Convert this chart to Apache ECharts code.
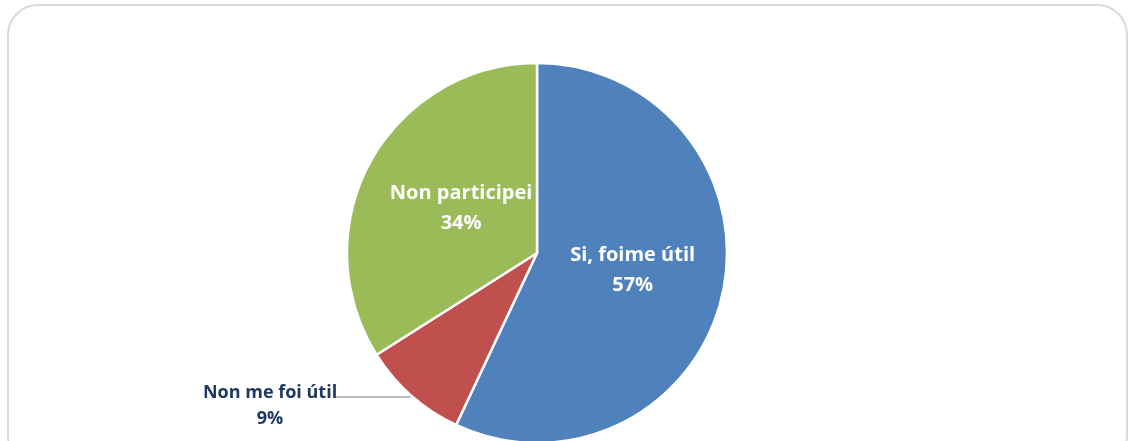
<!DOCTYPE html>
<html>
<head>
<meta charset="utf-8">
<script src="https://cdn.jsdelivr.net/npm/echarts@6/dist/echarts.min.js"></script>
<style>
  html, body { margin: 0; padding: 0; background: #fff; }
  #chart { width: 1134px; height: 441px; }
</style>
</head>
<body>
<div id="chart"></div>
<script>
const categories = ['Si, foime útil', 'Non me foi útil', 'Non participei'];
const shares = [57, 9, 34];
const sliceColors = ['#4f81bd', '#c0504d', '#9bbb59'];

const chart = echarts.init(document.getElementById('chart'));

const pieData = categories.map((name, i) => {
  const item = { name, value: shares[i], itemStyle: { color: sliceColors[i] } };
  if (i === 0) {
    item.label = { offset: [0, -4] };
  }
  if (i === 2) {
    item.label = { offset: [10, 3] };
  }
  if (i === 1) {
    // small slice: label outside with a leader line
    item.label = {
      position: 'outside',
      color: '#1f3864',
      fontSize: 18,
      distanceToLabelLine: 0,
      padding: [18, 0, 0, 0],
      formatter: '{t|{b}}\n{t|{c}%}',
      rich: {
        t: {
          width: 132,
          align: 'center',
          color: '#1f3864',
          fontFamily: 'Open Sans',
          fontWeight: 'bold',
          fontSize: 18,
          lineHeight: 26,
        },
      },
    };
    item.labelLine = {
      show: true,
      length: 2,
      length2: 74,
      lineStyle: { color: '#a6a6a6', width: 1.5 },
    };
  }
  return item;
});

chart.setOption({
  animation: false,
  graphic: [
    {
      type: 'rect',
      shape: { x: 8, y: 5, width: 1119, height: 460, r: 30 },
      style: { fill: 'none', stroke: '#d9d9d9', lineWidth: 2 },
      silent: true,
    },
  ],
  series: [
    {
      type: 'pie',
      center: [537, 253],
      radius: [0, 190],
      startAngle: 90,
      clockwise: true,
      avoidLabelOverlap: false,
      itemStyle: { borderColor: '#fff', borderWidth: 2.5 },
      label: {
        show: true,
        position: 'inside',
        formatter: '{b}\n{c}%',
        color: '#fff',
        fontFamily: 'Open Sans',
        fontWeight: 'bold',
        fontSize: 20,
        lineHeight: 30,
      },
      labelLine: { show: false },
      data: pieData,
    },
  ],
});
</script>
</body>
</html>
